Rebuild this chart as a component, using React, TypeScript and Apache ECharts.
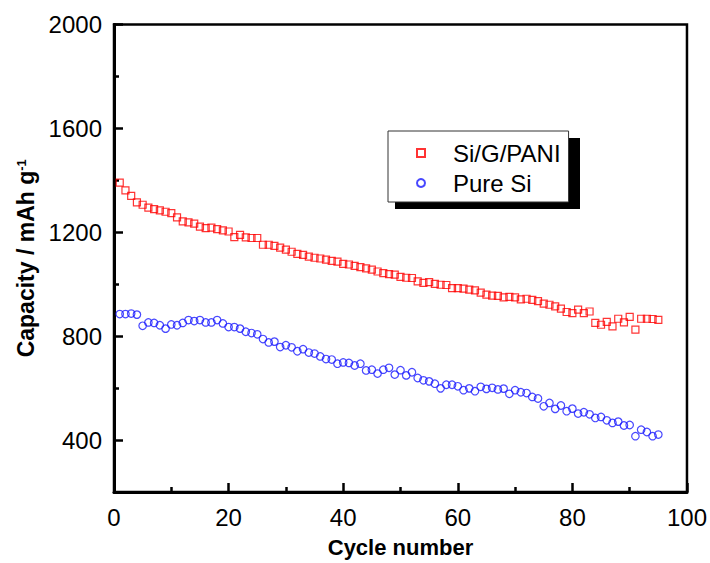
import React, { useEffect, useRef } from "react";
import * as echarts from "echarts";

const cycles = [
  1, 2, 3, 4, 5, 6, 7, 8, 9, 10, 11, 12, 13, 14, 15, 16, 17, 18, 19, 20,
  21, 22, 23, 24, 25, 26, 27, 28, 29, 30, 31, 32, 33, 34, 35, 36, 37, 38, 39, 40,
  41, 42, 43, 44, 45, 46, 47, 48, 49, 50, 51, 52, 53, 54, 55, 56, 57, 58, 59, 60,
  61, 62, 63, 64, 65, 66, 67, 68, 69, 70, 71, 72, 73, 74, 75, 76, 77, 78, 79, 80,
  81, 82, 83, 84, 85, 86, 87, 88, 89, 90, 91, 92, 93, 94, 95,
];

const siGPani = [
  1391, 1361, 1340, 1315, 1306, 1295, 1289, 1284, 1279, 1274,
  1257, 1242, 1238, 1233, 1222, 1216, 1218, 1212, 1207, 1203,
  1181, 1190, 1180, 1178, 1178, 1152, 1152, 1148, 1141, 1133,
  1125, 1117, 1113, 1106, 1102, 1099, 1095, 1090, 1087, 1078,
  1076, 1071, 1066, 1061, 1056, 1049, 1043, 1039, 1037, 1028,
  1025, 1024, 1011, 1005, 1008, 1001, 998, 997, 985, 985,
  983, 979, 976, 968, 960, 956, 955, 949, 951, 949,
  942, 944, 940, 935, 925, 921, 915, 906, 893, 889,
  902, 889, 895, 851, 844, 855, 838, 867, 853, 874,
  825, 867, 867, 866, 863,
];

const pureSi = [
  885, 885, 887, 883, 840, 853, 851, 842, 829, 845,
  842, 851, 862, 858, 862, 853, 853, 862, 849, 835,
  835, 829, 817, 812, 807, 789, 776, 779, 758, 765,
  757, 742, 750, 737, 733, 722, 712, 710, 694, 699,
  697, 687, 694, 668, 671, 656, 671, 678, 652, 669,
  649, 661, 639, 630, 626, 617, 599, 613, 613, 607,
  592, 599, 588, 605, 597, 601, 595, 598, 578, 592,
  584, 581, 566, 560, 530, 543, 520, 533, 511, 521,
  502, 507, 499, 485, 489, 476, 466, 471, 456, 458,
  415, 440, 431, 415, 421,
];

const yMajorTicks = [400, 800, 1200, 1600, 2000];
const yMinorTicks = [600, 1000, 1400, 1800];
const seriesNames = ["Si/G/PANI", "Pure Si"];

const FONT = "'Liberation Sans', Arial, sans-serif";

export default function App() {
  const ref = useRef<HTMLDivElement>(null);

  useEffect(() => {
    if (!ref.current) return;
    const chart = echarts.init(ref.current, undefined, { renderer: "svg" });

    const axisLine = { show: true, lineStyle: { color: "#000", width: 3 } };

    const option: any = {
      animation: false,
      backgroundColor: "#fff",
      textStyle: { fontFamily: FONT },
      grid: {
        left: 114,
        top: 24.5,
        width: 576.5,
        height: 468,
        show: true,
        borderColor: "#000",
        borderWidth: 2.5,
        backgroundColor: "transparent",
      },
      xAxis: {
        type: "value",
        min: 0,
        max: 100,
        interval: 20,
        axisLine,
        axisTick: { show: true, inside: true, length: 9, lineStyle: { color: "#000", width: 2.5 } },
        minorTick: { show: true, splitNumber: 2, length: 5, lineStyle: { color: "#000", width: 2.5 } },
        splitLine: { show: false },
        minorSplitLine: { show: false },
        axisLabel: { fontSize: 24, color: "#000", margin: 13, fontFamily: FONT },
        name: "Cycle number",
        nameLocation: "middle",
        nameGap: 44,
        nameTextStyle: { fontSize: 22, fontWeight: "bold", color: "#000", fontFamily: FONT },
      },
      yAxis: [
        {
          type: "value",
          min: 200,
          max: 2000,
          position: "left",
          axisLine,
          axisTick: {
            show: true,
            inside: true,
            length: 9,
            customValues: yMajorTicks,
            lineStyle: { color: "#000", width: 2.5 },
          },
          axisLabel: {
            fontSize: 24,
            color: "#000",
            margin: 12,
            customValues: yMajorTicks,
            fontFamily: FONT,
            formatter: (v: number) => String(v),
          },
          splitLine: { show: false },
          name: "{a|Capacity / mAh g}{b|-1}",
          nameLocation: "middle",
          nameRotate: 90,
          nameGap: 72,
          nameTextStyle: {
            color: "#000",
            rich: {
              a: { fontSize: 23, fontWeight: "bold", color: "#000", fontFamily: FONT, verticalAlign: "bottom" },
              b: { fontSize: 13, fontWeight: "bold", color: "#000", fontFamily: FONT, verticalAlign: "top" },
            },
          },
        },
        {
          type: "value",
          min: 200,
          max: 2000,
          position: "left",
          offset: 0,
          axisLine: { show: true, lineStyle: { color: "#000", width: 3 } },
          axisTick: {
            show: true,
            inside: true,
            length: 5,
            customValues: yMinorTicks,
            lineStyle: { color: "#000", width: 2.5 },
          },
          axisLabel: { show: false },
          splitLine: { show: false },
        },
      ],
      legend: {
        orient: "vertical",
        left: 388,
        top: 131,
        padding: [10, 8, 7, 28],
        itemWidth: 8,
        itemHeight: 8,
        itemGap: 6,
        backgroundColor: "#fff",
        borderColor: "#333",
        borderWidth: 1,
        z: 10,
        textStyle: {
          fontSize: 24,
          lineHeight: 24,
          color: "#000",
          fontFamily: FONT,
          padding: [0, 0, 0, 23],
        },
        data: [
          { name: seriesNames[0], icon: "rect" },
          { name: seriesNames[1], icon: "circle" },
        ],
      },
      graphic: [
        {
          type: "rect",
          z: 9,
          shape: { x: 395, y: 138, width: 185, height: 71 },
          style: { fill: "#000" },
        },
      ],
      series: [
        {
          name: seriesNames[0],
          type: "scatter",
          yAxisIndex: 0,
          symbol: "rect",
          symbolSize: 7,
          itemStyle: { color: "rgba(255,255,255,0)", borderColor: "#ff0000", borderWidth: 1.2 },
          data: cycles.map((c, i) => [c, siGPani[i]]),
        },
        {
          name: seriesNames[1],
          type: "scatter",
          yAxisIndex: 0,
          symbol: "circle",
          symbolSize: 7.5,
          itemStyle: { color: "rgba(255,255,255,0)", borderColor: "#1a1aff", borderWidth: 1.2 },
          data: cycles.map((c, i) => [c, pureSi[i]]),
        },
      ],
    };

    chart.setOption(option);
    return () => chart.dispose();
  }, []);

  return (
    <div
      ref={ref}
      style={{ position: "fixed", left: 0, top: 0, width: 710, height: 563, background: "#fff" }}
    />
  );
}
